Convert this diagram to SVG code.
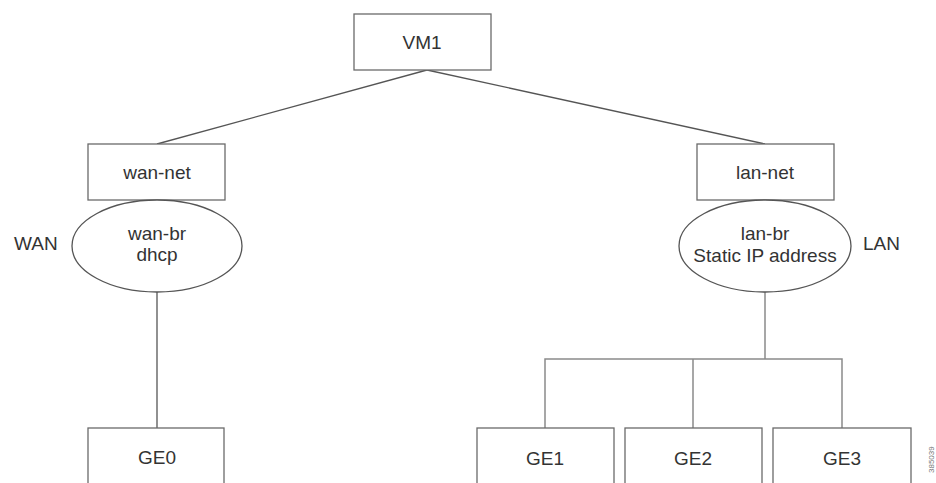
<svg xmlns="http://www.w3.org/2000/svg" width="936" height="483" viewBox="0 0 936 483">
<style>
.box{fill:#fff;stroke:#6a6a6a;stroke-width:1.3}
.ell{fill:#fff;stroke:#555;stroke-width:1.3}
.t{font-family:"Liberation Sans",Arial,sans-serif;font-size:19px;fill:#333;text-anchor:middle}
.side{font-family:"Liberation Sans",Arial,sans-serif;font-size:19px;fill:#333}
.c{fill:none;stroke:#555;stroke-width:1.3}
.c2{fill:none;stroke:#8a8a8a;stroke-width:1.5}
</style>
<rect width="936" height="483" fill="#fff"/>
<g id="connectors">
<line class="c" x1="427" y1="70" x2="157" y2="144"/>
<line class="c" x1="427" y1="70" x2="765" y2="144"/>
<line class="c" x1="157" y1="292" x2="157" y2="428"/>
<line class="c2" x1="765" y1="292" x2="765" y2="359"/>
<polyline class="c2" points="545,428 545,359 842,359 842,428"/>
<line class="c2" x1="693" y1="359" x2="693" y2="428"/>
</g>
<g id="VM1"><rect class="box" x="354" y="14" width="137" height="56"/><text class="t" x="422" y="49">VM1</text></g>
<g id="wan-net"><rect class="box" x="88" y="144" width="137" height="56"/><text class="t" x="157" y="179">wan-net</text></g>
<g id="lan-net"><rect class="box" x="697" y="144" width="137" height="56"/><text class="t" x="765" y="179">lan-net</text></g>
<g id="wan-br"><ellipse class="ell" cx="157" cy="246" rx="85" ry="46"/><text class="t" x="157" y="240">wan-br</text><text class="t" x="157" y="261">dhcp</text></g>
<g id="lan-br"><ellipse class="ell" cx="765" cy="246" rx="86" ry="46"/><text class="t" x="765" y="240">lan-br</text><text class="t" x="765" y="262">Static IP address</text></g>
<text class="side" x="14" y="250">WAN</text>
<text class="side" x="863" y="250">LAN</text>
<g id="GE0"><rect class="box" x="88" y="428" width="136" height="70"/><text class="t" x="157" y="464">GE0</text></g>
<g id="GE1"><rect class="box" x="477" y="428" width="137" height="70"/><text class="t" x="545" y="465">GE1</text></g>
<g id="GE2"><rect class="box" x="625" y="428" width="137" height="70"/><text class="t" x="693" y="465">GE2</text></g>
<g id="GE3"><rect class="box" x="773" y="428" width="138" height="70"/><text class="t" x="842" y="465">GE3</text></g>
<text font-family="Liberation Sans,Arial,sans-serif" font-size="8" fill="#777" transform="translate(934,473) rotate(-90)">385039</text>
</svg>
